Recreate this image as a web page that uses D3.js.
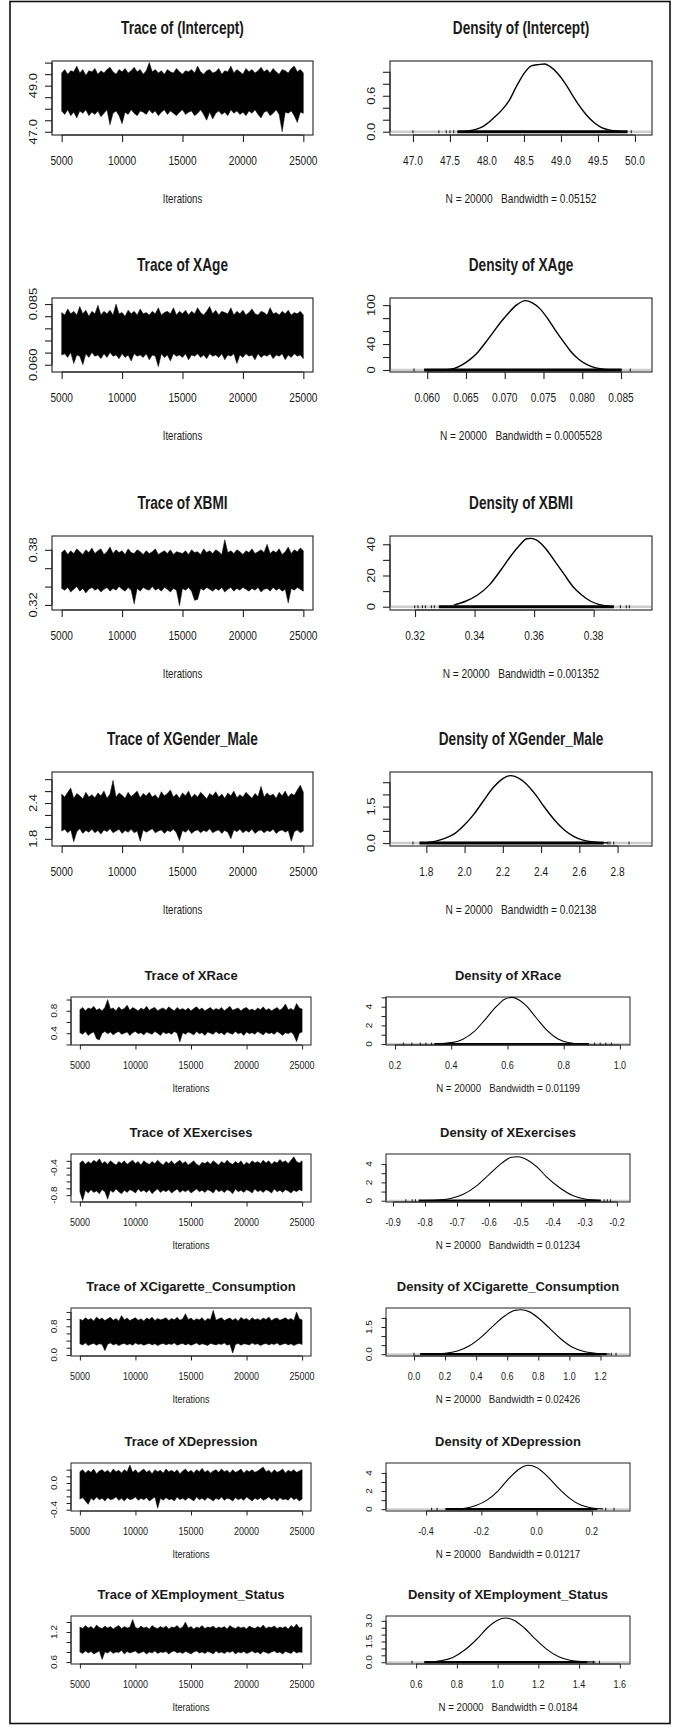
<!DOCTYPE html>
<html>
<head>
<meta charset="utf-8">
<script src="https://cdn.jsdelivr.net/npm/d3@7"></script>
<style>
  body { margin: 0; background: #fff; }
  svg { display: block; font-family: "Liberation Sans", Arial, sans-serif; }
</style>
</head>
<body>
<svg id="chart" width="674" height="1726"></svg>
<script>
// MCMC output: 20000 draws kept, iterations 5000..25000.
const sampleIterations = d3.range(5000, 25001, 250);
const iterLim = [4200, 25800];
const iterTicks = [5000, 10000, 15000, 20000, 25000];

// ---- (Intercept)
const interceptHi = [
  49.55, 49.7, 49.5, 49.65, 49.6, 49.85, 49.55, 49.7, 49.45, 49.65,
  49.6, 49.75, 49.5, 49.65, 49.55, 49.7, 49.8, 49.6, 49.5, 49.7,
  49.6, 49.75, 49.55, 49.65, 49.8, 49.6, 49.7, 49.5, 49.65, 50.0,
  49.6, 49.7, 49.55, 49.65, 49.5, 49.7, 49.6, 49.55, 49.75, 49.6,
  49.5, 49.65, 49.6, 49.7, 49.55, 49.85, 49.6, 49.5, 49.65, 49.7,
  49.55, 49.6, 49.75, 49.5, 49.65, 49.6, 49.85, 49.55, 49.7, 49.6,
  49.5, 49.75, 49.6, 49.7, 49.55, 49.65, 49.8, 49.6, 49.7, 49.55,
  49.75, 49.6, 49.5, 49.7, 49.65, 49.55, 49.75, 49.85, 49.6, 49.7,
  49.55];
const interceptLo = [
  47.9, 47.75, 47.95, 47.7, 47.85, 47.6, 47.9, 47.8, 47.95, 47.7,
  47.85, 47.75, 47.9, 47.65, 47.8, 47.95, 47.3, 47.8, 47.9, 47.7,
  47.35, 47.85, 47.75, 47.95, 47.8, 47.7, 47.9, 47.85, 47.75, 47.95,
  47.8, 47.9, 47.7, 47.85, 47.95, 47.75, 47.9, 47.8, 47.7, 47.85,
  47.95, 47.75, 47.85, 47.9, 47.7, 47.8, 47.95, 47.75, 47.5, 47.85,
  47.55, 47.8, 47.9, 47.75, 47.85, 47.7, 47.95, 47.8, 47.9, 47.75,
  47.85, 47.7, 47.9, 47.8, 47.95, 47.75, 47.6, 47.85, 47.9, 47.7,
  47.8, 47.95, 47.75, 47.0, 47.85, 47.8, 47.9, 47.7, 47.4, 47.85,
  47.8];
const interceptTraceLim = [46.86, 50.07];
const interceptTraceTicks = [47, 47.5, 48, 48.5, 49, 49.5, 50];
const interceptTraceLabels = ['47.0', '49.0'];
const interceptDensity = [[47.7, 0.01], [47.85, 0.04], [47.95, 0.09], [48.1, 0.24], [48.2, 0.36],
  [48.3, 0.52], [48.4, 0.76], [48.5, 0.97], [48.6, 1.1], [48.7, 1.12], [48.78, 1.13], [48.85, 1.09],
  [48.95, 0.98], [49.05, 0.82], [49.15, 0.62], [49.25, 0.43], [49.35, 0.27], [49.45, 0.15],
  [49.55, 0.07], [49.65, 0.03], [49.8, 0.005]];
const interceptDensXLim = [46.69, 50.23];
const interceptDensYLim = [-0.055, 1.18];
const interceptDensXLabels = ['47.0', '47.5', '48.0', '48.5', '49.0', '49.5', '50.0'];
const interceptDensYTicks = [0, 0.2, 0.4, 0.6, 0.8, 1.0];
const interceptDensYLabels = ['0.0', '0.6'];
const interceptRug = [47.6, 49.9];
const interceptRugMarks = [47.0, 47.35, 47.45, 47.5, 47.55, 49.95];

// ---- XAge
const ageHi = [
  0.0815, 0.0805, 0.083, 0.081, 0.082, 0.0805, 0.084, 0.081, 0.0825, 0.080,
  0.082, 0.081, 0.0845, 0.0805, 0.082, 0.081, 0.0825, 0.0805, 0.085, 0.081,
  0.0815, 0.080, 0.0825, 0.081, 0.082, 0.0805, 0.083, 0.081, 0.0815, 0.0805,
  0.082, 0.081, 0.0835, 0.0805, 0.0815, 0.082, 0.081, 0.0835, 0.0805, 0.082,
  0.081, 0.0825, 0.0805, 0.082, 0.081, 0.0835, 0.0815, 0.0805, 0.082, 0.084,
  0.081, 0.0825, 0.0805, 0.082, 0.0815, 0.081, 0.0835, 0.0805, 0.082, 0.081,
  0.0825, 0.0805, 0.0815, 0.083, 0.081, 0.0805, 0.082, 0.0815, 0.0805, 0.0835,
  0.081, 0.0815, 0.0805, 0.082, 0.081, 0.0825, 0.0805, 0.0815, 0.081, 0.082,
  0.0805];
const ageLo = [
  0.064, 0.0645, 0.063, 0.065, 0.0605, 0.064, 0.0635, 0.060, 0.0645, 0.063,
  0.065, 0.0635, 0.064, 0.0625, 0.0645, 0.063, 0.065, 0.0635, 0.064, 0.0625,
  0.0645, 0.063, 0.064, 0.0615, 0.0645, 0.0635, 0.064, 0.063, 0.0645, 0.062,
  0.064, 0.0635, 0.0592, 0.0645, 0.063, 0.064, 0.0615, 0.0645, 0.0635, 0.064,
  0.063, 0.0645, 0.062, 0.064, 0.0635, 0.0645, 0.063, 0.064, 0.0625, 0.0645,
  0.0635, 0.064, 0.063, 0.0645, 0.062, 0.064, 0.0635, 0.0645, 0.0605, 0.064,
  0.063, 0.0645, 0.0635, 0.064, 0.062, 0.0645, 0.063, 0.064, 0.0635, 0.0645,
  0.0625, 0.064, 0.0635, 0.0645, 0.062, 0.064, 0.063, 0.0645, 0.0635, 0.064,
  0.0625];
const ageTraceLim = [0.057, 0.0875];
const ageTraceTicks = [0.060, 0.065, 0.070, 0.075, 0.080, 0.085];
const ageTraceLabels = ['0.060', '0.085'];
const ageDensity = [[0.0625, 0.5], [0.0635, 2.5], [0.0645, 8], [0.0655, 16], [0.0665, 27],
  [0.0675, 42], [0.0685, 58], [0.0695, 74], [0.0705, 88], [0.0715, 100], [0.0727, 107],
  [0.0735, 104], [0.0745, 95], [0.0755, 80], [0.0765, 62], [0.0775, 45], [0.0785, 29],
  [0.0795, 17], [0.0805, 9], [0.0815, 4], [0.0825, 1.5], [0.0835, 0.3]];
const ageDensXLim = [0.0552, 0.089];
const ageDensYLim = [-3.1, 111];
const ageDensXLabels = ['0.060', '0.065', '0.070', '0.075', '0.080', '0.085'];
const ageDensYTicks = [0, 20, 40, 60, 80, 100];
const ageDensYLabels = ['0', '40', '100'];
const ageRug = [0.0596, 0.0851];
const ageRugMarks = [0.0583, 0.0862];

// ---- XBMI
const bmiHi = [
  0.377, 0.380, 0.375, 0.379, 0.376, 0.381, 0.378, 0.375, 0.380, 0.377,
  0.382, 0.376, 0.379, 0.381, 0.375, 0.378, 0.383, 0.376, 0.380, 0.377,
  0.379, 0.375, 0.381, 0.377, 0.376, 0.380, 0.378, 0.375, 0.379, 0.376,
  0.378, 0.381, 0.375, 0.377, 0.379, 0.376, 0.380, 0.375, 0.378, 0.377,
  0.376, 0.379, 0.375, 0.380, 0.377, 0.378, 0.375, 0.381, 0.377, 0.379,
  0.376, 0.380, 0.378, 0.375, 0.391, 0.377, 0.379, 0.376, 0.380, 0.378,
  0.375, 0.379, 0.377, 0.381, 0.376, 0.378, 0.380, 0.377, 0.386, 0.376,
  0.379, 0.377, 0.381, 0.375, 0.378, 0.383, 0.376, 0.380, 0.378, 0.382,
  0.379];
const bmiLo = [
  0.338, 0.336, 0.339, 0.334, 0.337, 0.340, 0.335, 0.338, 0.333, 0.337,
  0.339, 0.336, 0.338, 0.334, 0.337, 0.339, 0.335, 0.338, 0.336, 0.340,
  0.337, 0.335, 0.339, 0.336, 0.321, 0.338, 0.335, 0.339, 0.337, 0.336,
  0.340, 0.336, 0.338, 0.335, 0.339, 0.337, 0.334, 0.338, 0.336, 0.319,
  0.338, 0.336, 0.339, 0.335, 0.325, 0.326, 0.338, 0.336, 0.339, 0.337,
  0.335, 0.338, 0.336, 0.339, 0.334, 0.337, 0.339, 0.335, 0.338, 0.336,
  0.339, 0.337, 0.335, 0.338, 0.336, 0.339, 0.334, 0.337, 0.338, 0.335,
  0.339, 0.336, 0.338, 0.335, 0.337, 0.322, 0.338, 0.336, 0.339, 0.337,
  0.335];
const bmiTraceLim = [0.3145, 0.395];
const bmiTraceTicks = [0.32, 0.34, 0.36, 0.38];
const bmiTraceLabels = ['0.32', '0.38'];
const bmiDensity = [[0.333, 1], [0.337, 3.5], [0.341, 7.5], [0.345, 14], [0.349, 24], [0.352, 32],
  [0.355, 39], [0.3575, 43.5], [0.359, 43.8], [0.361, 42.5], [0.364, 37], [0.367, 29], [0.370, 21],
  [0.373, 13], [0.376, 7.5], [0.379, 3.5], [0.382, 1.3], [0.385, 0.3]];
const bmiDensXLim = [0.3116, 0.3996];
const bmiDensYLim = [-2.1, 45.3];
const bmiDensXLabels = ['0.32', '0.34', '0.36', '0.38'];
const bmiDensYTicks = [0, 10, 20, 30, 40];
const bmiDensYLabels = ['0', '20', '40'];
const bmiRug = [0.328, 0.3868];
const bmiRugMarks = [0.3199, 0.321, 0.3225, 0.3235, 0.3255, 0.3265, 0.389, 0.391, 0.392];

// ---- XGender_Male
const genderHi = [
  2.55, 2.5, 2.58, 2.65, 2.48, 2.56, 2.52, 2.47, 2.58, 2.5,
  2.54, 2.49, 2.57, 2.52, 2.6, 2.48, 2.55, 2.78, 2.5, 2.57,
  2.53, 2.48, 2.58, 2.51, 2.55, 2.6, 2.49, 2.56, 2.52, 2.58,
  2.5, 2.54, 2.47, 2.59, 2.52, 2.56, 2.62, 2.5, 2.55, 2.48,
  2.57, 2.52, 2.6, 2.49, 2.55, 2.5, 2.58, 2.53, 2.47, 2.56,
  2.52, 2.59, 2.5, 2.55, 2.48, 2.57, 2.52, 2.6, 2.49, 2.54,
  2.5, 2.58, 2.53, 2.48, 2.56, 2.51, 2.68, 2.5, 2.57, 2.52,
  2.55, 2.48, 2.58, 2.52, 2.6, 2.5, 2.56, 2.53, 2.62, 2.7,
  2.58];
const genderLo = [
  1.93, 1.96, 1.9, 1.95, 1.75, 1.92, 1.97, 1.89, 1.94, 1.91,
  1.96, 1.9, 1.94, 1.88, 1.95, 1.92, 1.97, 1.9, 1.93, 1.96,
  1.89, 1.94, 1.91, 1.96, 1.9, 1.93, 1.76, 1.95, 1.91, 1.94,
  1.97, 1.9, 1.93, 1.95, 1.89, 1.94, 1.92, 1.96, 1.9, 1.77,
  1.94, 1.91, 1.96, 1.89, 1.93, 1.95, 1.9, 1.94, 1.92, 1.97,
  1.9, 1.93, 1.95, 1.89, 1.94, 1.91, 1.8, 1.95, 1.92, 1.96,
  1.9, 1.94, 1.91, 1.96, 1.89, 1.93, 1.95, 1.9, 1.94, 1.92,
  1.96, 1.89, 1.93, 1.95, 1.91, 1.94, 1.76, 1.92, 1.95, 1.9,
  1.93];
const genderTraceLim = [1.68, 2.92];
const genderTraceTicks = [1.8, 2.0, 2.2, 2.4, 2.6, 2.8];
const genderTraceLabels = ['1.8', '2.4'];
const genderDensity = [[1.8, 0.02], [1.85, 0.08], [1.9, 0.2], [1.95, 0.4], [2.0, 0.75], [2.05, 1.2],
  [2.1, 1.75], [2.15, 2.28], [2.2, 2.65], [2.24, 2.77], [2.28, 2.68], [2.32, 2.45], [2.37, 2.0],
  [2.42, 1.45], [2.47, 0.95], [2.52, 0.55], [2.57, 0.28], [2.62, 0.12], [2.68, 0.04], [2.75, 0.01]];
const genderDensXLim = [1.61, 2.98];
const genderDensYLim = [-0.12, 2.92];
const genderDensXLabels = ['1.8', '2.0', '2.2', '2.4', '2.6', '2.8'];
const genderDensYTicks = [0, 0.5, 1.0, 1.5, 2.0, 2.5];
const genderDensYLabels = ['0.0', '1.5'];
const genderRug = [1.764, 2.727];
const genderRugMarks = [1.73, 2.75, 2.76, 2.78, 2.86];

// ---- XRace
const raceHi = [
  0.82, 0.86, 0.8, 0.85, 0.83, 0.88, 0.81, 0.84, 0.8, 0.86,
  1.0, 0.83, 0.85, 0.8, 0.87, 0.82, 0.84, 0.9, 0.81, 0.86,
  0.83, 0.8, 0.85, 0.82, 0.88, 0.81, 0.84, 0.86, 0.8, 0.83,
  0.85, 0.81, 0.87, 0.83, 0.8, 0.86, 0.82, 0.84, 0.81, 0.85,
  0.8, 0.84, 0.87, 0.82, 0.85, 0.8, 0.83, 0.86, 0.81, 0.84,
  0.82, 0.86, 0.8, 0.84, 0.88, 0.81, 0.83, 0.85, 0.8, 0.84,
  0.86, 0.81, 0.83, 0.8, 0.85, 0.82, 0.87, 0.81, 0.84, 0.8,
  0.83, 0.86, 0.81, 0.85, 0.92, 0.82, 0.84, 0.81, 0.93, 0.85,
  0.83];
const raceLo = [
  0.41, 0.38, 0.43, 0.36, 0.4, 0.42, 0.3, 0.28, 0.4, 0.43,
  0.39, 0.42, 0.37, 0.41, 0.43, 0.38, 0.4, 0.42, 0.36, 0.41,
  0.43, 0.39, 0.41, 0.37, 0.42, 0.4, 0.38, 0.43, 0.4, 0.36,
  0.42, 0.39, 0.41, 0.38, 0.43, 0.4, 0.24, 0.41, 0.38, 0.42,
  0.4, 0.37, 0.43, 0.39, 0.41, 0.36, 0.42, 0.4, 0.38, 0.43,
  0.39, 0.41, 0.37, 0.42, 0.4, 0.38, 0.43, 0.39, 0.41, 0.36,
  0.42, 0.39, 0.41, 0.38, 0.43, 0.4, 0.37, 0.42, 0.39, 0.41,
  0.38, 0.43, 0.4, 0.36, 0.41, 0.39, 0.42, 0.37, 0.25, 0.4,
  0.42];
const raceTraceLim = [0.19, 1.045];
const raceTraceTicks = [0.2, 0.4, 0.6, 0.8, 1.0];
const raceTraceLabels = ['0.4', '0.8'];
const raceDensity = [[0.35, 0.03], [0.4, 0.15], [0.44, 0.5], [0.48, 1.3], [0.52, 2.6], [0.56, 4.0],
  [0.59, 4.8], [0.615, 5.0], [0.64, 4.75], [0.67, 4.0], [0.7, 2.9], [0.74, 1.5], [0.78, 0.55],
  [0.82, 0.15], [0.86, 0.03]];
const raceDensXLim = [0.168, 1.036];
const raceDensYLim = [-0.1, 5.04];
const raceDensXLabels = ['0.2', '0.4', '0.6', '0.8', '1.0'];
const raceDensYTicks = [0, 1, 2, 3, 4, 5];
const raceDensYLabels = ['0', '2', '4'];
const raceRug = [0.34, 0.89];
const raceRugMarks = [0.23, 0.26, 0.29, 0.31, 0.33, 0.91, 0.93, 0.95, 0.97];

// ---- XExercises
const exerciseHi = [
  -0.33, -0.3, -0.35, -0.31, -0.34, -0.29, -0.32, -0.27, -0.34, -0.31,
  -0.35, -0.3, -0.33, -0.36, -0.31, -0.34, -0.3, -0.35, -0.32, -0.29,
  -0.34, -0.31, -0.36, -0.3, -0.33, -0.35, -0.31, -0.34, -0.29, -0.33,
  -0.36, -0.31, -0.34, -0.3, -0.35, -0.32, -0.29, -0.34, -0.31, -0.36,
  -0.33, -0.3, -0.35, -0.37, -0.32, -0.34, -0.31, -0.35, -0.3, -0.33,
  -0.36, -0.31, -0.34, -0.29, -0.33, -0.35, -0.31, -0.34, -0.3, -0.36,
  -0.32, -0.35, -0.3, -0.33, -0.31, -0.34, -0.29, -0.33, -0.3, -0.35,
  -0.31, -0.33, -0.28, -0.32, -0.3, -0.34, -0.29, -0.24, -0.31, -0.33,
  -0.3];
const exerciseLo = [
  -0.75, -0.88, -0.73, -0.77, -0.72, -0.76, -0.74, -0.78, -0.72, -0.75,
  -0.86, -0.73, -0.76, -0.71, -0.75, -0.78, -0.73, -0.76, -0.72, -0.74,
  -0.77, -0.71, -0.75, -0.73, -0.76, -0.72, -0.78, -0.74, -0.71, -0.76,
  -0.73, -0.75, -0.72, -0.77, -0.74, -0.71, -0.76, -0.73, -0.75, -0.72,
  -0.77, -0.74, -0.71, -0.75, -0.73, -0.76, -0.72, -0.74, -0.77, -0.71,
  -0.75, -0.73, -0.76, -0.72, -0.74, -0.78, -0.71, -0.75, -0.73, -0.76,
  -0.72, -0.74, -0.77, -0.71, -0.75, -0.73, -0.76, -0.72, -0.74, -0.77,
  -0.71, -0.75, -0.73, -0.76, -0.72, -0.74, -0.77, -0.73, -0.75, -0.72,
  -0.74];
const exerciseTraceLim = [-0.9, -0.2];
const exerciseTraceTicks = [-0.8, -0.7, -0.6, -0.5, -0.4, -0.3];
const exerciseTraceLabels = ['-0.8', '-0.4'];
const exerciseDensity = [[-0.8, 0.01], [-0.76, 0.06], [-0.72, 0.25], [-0.68, 0.7], [-0.64, 1.6],
  [-0.6, 2.85], [-0.56, 4.1], [-0.53, 4.75], [-0.51, 4.8], [-0.48, 4.45], [-0.45, 3.7],
  [-0.42, 2.6], [-0.38, 1.45], [-0.34, 0.6], [-0.3, 0.18], [-0.26, 0.04]];
const exerciseDensXLim = [-0.922, -0.159];
const exerciseDensYLim = [-0.14, 5.1];
const exerciseDensXLabels = ['-0.9', '-0.8', '-0.7', '-0.6', '-0.5', '-0.4', '-0.3', '-0.2'];
const exerciseDensYTicks = [0, 1, 2, 3, 4];
const exerciseDensYLabels = ['0', '2', '4'];
const exerciseRug = [-0.82, -0.25];
const exerciseRugMarks = [-0.86, -0.84, -0.83, -0.24, -0.23, -0.22];

// ---- XCigarette_Consumption
const cigaretteHi = [
  1.0, 0.96, 1.04, 0.98, 1.02, 0.95, 1.06, 0.99, 1.03, 0.96,
  1.01, 1.05, 0.97, 1.02, 0.95, 1.1, 0.98, 1.03, 0.96, 1.0,
  1.04, 0.97, 1.01, 0.95, 1.03, 0.99, 1.05, 0.96, 1.02, 0.98,
  1.0, 1.04, 0.96, 1.02, 0.98, 1.05, 0.97, 1.01, 1.15, 0.99,
  1.03, 0.96, 1.01, 0.98, 1.04, 0.95, 1.02, 0.99, 1.25, 0.97,
  1.01, 1.04, 0.96, 1.0, 1.03, 0.97, 1.02, 0.95, 1.05, 0.99,
  1.02, 0.96, 1.04, 0.98, 1.01, 0.97, 1.03, 0.99, 1.06, 0.96,
  1.01, 1.03, 0.97, 1.0, 1.04, 0.98, 1.02, 0.96, 1.2, 1.01,
  0.98];
const cigaretteLo = [
  0.31, 0.28, 0.33, 0.26, 0.3, 0.32, 0.27, 0.31, 0.29, 0.12,
  0.3, 0.33, 0.28, 0.31, 0.26, 0.3, 0.32, 0.28, 0.31, 0.27,
  0.33, 0.29, 0.31, 0.27, 0.3, 0.32, 0.28, 0.31, 0.26, 0.3,
  0.32, 0.28, 0.31, 0.29, 0.33, 0.27, 0.3, 0.32, 0.28, 0.31,
  0.27, 0.3, 0.33, 0.28, 0.31, 0.29, 0.26, 0.32, 0.3, 0.28,
  0.31, 0.29, 0.33, 0.27, 0.3, 0.05, 0.29, 0.32, 0.27, 0.31,
  0.3, 0.28, 0.33, 0.29, 0.31, 0.26, 0.3, 0.32, 0.28, 0.31,
  0.29, 0.33, 0.27, 0.3, 0.32, 0.28, 0.31, 0.26, 0.3, 0.32,
  0.29];
const cigaretteTraceLim = [-0.03, 1.31];
const cigaretteTraceTicks = [0, 0.2, 0.4, 0.6, 0.8, 1.0, 1.2];
const cigaretteTraceLabels = ['0.0', '0.8'];
const cigaretteDensity = [[0.12, 0.01], [0.2, 0.05], [0.28, 0.18], [0.36, 0.48], [0.44, 1.0],
  [0.52, 1.65], [0.59, 2.15], [0.65, 2.42], [0.69, 2.45], [0.74, 2.35], [0.8, 2.0], [0.87, 1.45],
  [0.94, 0.88], [1.02, 0.38], [1.1, 0.13], [1.18, 0.04], [1.26, 0.01]];
const cigaretteDensXLim = [-0.18, 1.39];
const cigaretteDensYLim = [-0.1, 2.55];
const cigaretteDensXLabels = ['0.0', '0.2', '0.4', '0.6', '0.8', '1.0', '1.2'];
const cigaretteDensYTicks = [0, 0.5, 1.0, 1.5, 2.0];
const cigaretteDensYLabels = ['0.0', '1.5'];
const cigaretteRug = [0.04, 1.24];
const cigaretteRugMarks = [0.0, 1.27, 1.3];

// ---- XDepression
const depressionHi = [
  0.17, 0.2, 0.15, 0.19, 0.16, 0.21, 0.14, 0.18, 0.2, 0.16,
  0.19, 0.15, 0.21, 0.17, 0.19, 0.15, 0.2, 0.17, 0.27, 0.16,
  0.2, 0.15, 0.18, 0.21, 0.16, 0.19, 0.14, 0.2, 0.17, 0.19,
  0.15, 0.21, 0.17, 0.19, 0.16, 0.2, 0.14, 0.18, 0.21, 0.16,
  0.19, 0.15, 0.2, 0.17, 0.22, 0.16, 0.19, 0.15, 0.18, 0.2,
  0.16, 0.21, 0.17, 0.19, 0.15, 0.2, 0.16, 0.18, 0.21, 0.15,
  0.19, 0.17, 0.2, 0.16, 0.18, 0.21, 0.24, 0.17, 0.19, 0.15,
  0.2, 0.16, 0.18, 0.21, 0.15, 0.19, 0.17, 0.2, 0.16, 0.18,
  0.2];
const depressionLo = [
  -0.24, -0.22, -0.27, -0.32, -0.23, -0.26, -0.21, -0.25, -0.23, -0.27,
  -0.22, -0.25, -0.24, -0.21, -0.26, -0.23, -0.27, -0.22, -0.25, -0.24,
  -0.21, -0.26, -0.23, -0.25, -0.22, -0.27, -0.24, -0.21, -0.38, -0.23,
  -0.26, -0.22, -0.25, -0.24, -0.27, -0.21, -0.25, -0.23, -0.26, -0.22,
  -0.24, -0.27, -0.21, -0.25, -0.23, -0.26, -0.22, -0.24, -0.27, -0.23,
  -0.25, -0.21, -0.26, -0.23, -0.24, -0.27, -0.22, -0.25, -0.23, -0.26,
  -0.21, -0.24, -0.27, -0.23, -0.25, -0.22, -0.26, -0.24, -0.21, -0.25,
  -0.23, -0.27, -0.22, -0.25, -0.24, -0.26, -0.21, -0.25, -0.23, -0.27,
  -0.24];
const depressionTraceLim = [-0.42, 0.3];
const depressionTraceTicks = [-0.4, -0.3, -0.2, -0.1, 0.0, 0.1, 0.2];
const depressionTraceLabels = ['-0.4', '0.0'];
const depressionDensity = [[-0.3, 0.02], [-0.26, 0.1], [-0.22, 0.4], [-0.18, 1.0], [-0.14, 2.0],
  [-0.1, 3.4], [-0.06, 4.5], [-0.03, 4.85], [0.0, 4.6], [0.04, 3.6], [0.08, 2.3], [0.12, 1.2],
  [0.16, 0.45], [0.2, 0.13], [0.24, 0.03]];
const depressionDensXLim = [-0.545, 0.338];
const depressionDensYLim = [-0.2, 5.1];
const depressionDensXLabels = ['-0.4', '-0.2', '0.0', '0.2'];
const depressionDensYTicks = [0, 1, 2, 3, 4];
const depressionDensYLabels = ['0', '2', '4'];
const depressionRug = [-0.33, 0.22];
const depressionRugMarks = [-0.38, -0.36, 0.25, 0.28];

// ---- XEmployment_Status
const employmentHi = [
  1.3, 1.27, 1.33, 1.28, 1.31, 1.26, 1.34, 1.29, 1.27, 1.32,
  1.28, 1.31, 1.26, 1.3, 1.33, 1.27, 1.31, 1.28, 1.3, 1.45,
  1.29, 1.27, 1.32, 1.28, 1.3, 1.26, 1.33, 1.29, 1.27, 1.31,
  1.28, 1.32, 1.26, 1.3, 1.29, 1.33, 1.27, 1.3, 1.4, 1.28,
  1.31, 1.26, 1.3, 1.28, 1.33, 1.27, 1.3, 1.29, 1.32, 1.27,
  1.3, 1.28, 1.31, 1.26, 1.33, 1.29, 1.27, 1.31, 1.28, 1.3,
  1.26, 1.32, 1.29, 1.27, 1.31, 1.28, 1.34, 1.27, 1.3, 1.29,
  1.32, 1.27, 1.3, 1.28, 1.31, 1.26, 1.33, 1.29, 1.36, 1.28,
  1.3];
const employmentLo = [
  0.8, 0.77, 0.82, 0.78, 0.81, 0.76, 0.79, 0.82, 0.65, 0.8,
  0.78, 0.82, 0.77, 0.8, 0.79, 0.83, 0.76, 0.81, 0.78, 0.8,
  0.82, 0.77, 0.79, 0.81, 0.76, 0.8, 0.78, 0.82, 0.77, 0.8,
  0.79, 0.81, 0.76, 0.8, 0.82, 0.78, 0.8, 0.77, 0.81, 0.79,
  0.76, 0.8, 0.82, 0.78, 0.8, 0.77, 0.81, 0.79, 0.76, 0.82,
  0.78, 0.8, 0.77, 0.81, 0.79, 0.82, 0.76, 0.8, 0.78, 0.81,
  0.77, 0.79, 0.82, 0.78, 0.8, 0.76, 0.81, 0.79, 0.77, 0.8,
  0.82, 0.78, 0.8, 0.76, 0.81, 0.79, 0.77, 0.82, 0.78, 0.8,
  0.79];
const employmentTraceLim = [0.56, 1.52];
const employmentTraceTicks = [0.6, 0.8, 1.0, 1.2, 1.4];
const employmentTraceLabels = ['0.6', '1.2'];
const employmentDensity = [[0.66, 0.02], [0.72, 0.1], [0.78, 0.35], [0.84, 0.9], [0.9, 1.7],
  [0.95, 2.5], [1.0, 3.05], [1.04, 3.2], [1.08, 3.05], [1.13, 2.5], [1.18, 1.75], [1.24, 0.95],
  [1.3, 0.4], [1.36, 0.13], [1.42, 0.04], [1.48, 0.01]];
const employmentDensXLim = [0.452, 1.65];
const employmentDensYLim = [-0.13, 3.35];
const employmentDensXLabels = ['0.6', '0.8', '1.0', '1.2', '1.4', '1.6'];
const employmentDensYTicks = [0, 0.5, 1.0, 1.5, 2.0, 2.5, 3.0];
const employmentDensYLabels = ['0.0', '1.5', '3.0'];
const employmentRug = [0.64, 1.44];
const employmentRugMarks = [0.58, 1.47, 1.5];

const drawCount = 20000;
const bandwidths = ['0.05152', '0.0005528', '0.001352', '0.02138', '0.01199',
  '0.01234', '0.02426', '0.01217', '0.0184'];
const paramNames = ['(Intercept)', 'XAge', 'XBMI', 'XGender_Male', 'XRace',
  'XExercises', 'XCigarette_Consumption', 'XDepression', 'XEmployment_Status'];

const params = [
  [interceptHi, interceptLo, interceptTraceLim, interceptTraceTicks, interceptTraceLabels, interceptDensity,
    interceptDensXLim, interceptDensYLim, interceptDensXLabels, interceptDensYTicks, interceptDensYLabels, interceptRug, interceptRugMarks],
  [ageHi, ageLo, ageTraceLim, ageTraceTicks, ageTraceLabels, ageDensity,
    ageDensXLim, ageDensYLim, ageDensXLabels, ageDensYTicks, ageDensYLabels, ageRug, ageRugMarks],
  [bmiHi, bmiLo, bmiTraceLim, bmiTraceTicks, bmiTraceLabels, bmiDensity,
    bmiDensXLim, bmiDensYLim, bmiDensXLabels, bmiDensYTicks, bmiDensYLabels, bmiRug, bmiRugMarks],
  [genderHi, genderLo, genderTraceLim, genderTraceTicks, genderTraceLabels, genderDensity,
    genderDensXLim, genderDensYLim, genderDensXLabels, genderDensYTicks, genderDensYLabels, genderRug, genderRugMarks],
  [raceHi, raceLo, raceTraceLim, raceTraceTicks, raceTraceLabels, raceDensity,
    raceDensXLim, raceDensYLim, raceDensXLabels, raceDensYTicks, raceDensYLabels, raceRug, raceRugMarks],
  [exerciseHi, exerciseLo, exerciseTraceLim, exerciseTraceTicks, exerciseTraceLabels, exerciseDensity,
    exerciseDensXLim, exerciseDensYLim, exerciseDensXLabels, exerciseDensYTicks, exerciseDensYLabels, exerciseRug, exerciseRugMarks],
  [cigaretteHi, cigaretteLo, cigaretteTraceLim, cigaretteTraceTicks, cigaretteTraceLabels, cigaretteDensity,
    cigaretteDensXLim, cigaretteDensYLim, cigaretteDensXLabels, cigaretteDensYTicks, cigaretteDensYLabels, cigaretteRug, cigaretteRugMarks],
  [depressionHi, depressionLo, depressionTraceLim, depressionTraceTicks, depressionTraceLabels, depressionDensity,
    depressionDensXLim, depressionDensYLim, depressionDensXLabels, depressionDensYTicks, depressionDensYLabels, depressionRug, depressionRugMarks],
  [employmentHi, employmentLo, employmentTraceLim, employmentTraceTicks, employmentTraceLabels, employmentDensity,
    employmentDensXLim, employmentDensYLim, employmentDensXLabels, employmentDensYTicks, employmentDensYLabels, employmentRug, employmentRugMarks],
].map((a, i) => ({
  name: paramNames[i], bw: bandwidths[i],
  hi: a[0], lo: a[1], traceLim: a[2], traceTicks: a[3], traceLabels: a[4], dens: a[5],
  densXLim: a[6], densYLim: a[7], densXLabels: a[8], densYTicks: a[9], densYLabels: a[10],
  rug: a[11], rugMarks: a[12],
}));

// The picture is two screenshots stacked: the first four rows are bigger and squeezed sideways.
const BIG = {
  title: 28, boxTop: 61, boxBot: 135, tickLab: 160, sub: 198,
  traceX: [52, 313], densX: [390, 652],
  font: 13, sx: 0.78, titleFont: 17.5, titleSx: 0.78, subFont: 13, subSx: 0.78,
  iterFont: 13, iterSx: 0.74, tickLen: 7, yLabGap: 19, lineW: 1.1, curveW: 1.4, rugW: 3, zeroW: 2.5,
};
const SMALL = {
  title: 23, boxTop: 45, boxBot: 93, tickLab: 113, sub: 136,
  traceX: [71, 311], densX: [386, 630],
  font: 10, sx: 0.9, titleFont: 13, titleSx: 1, subFont: 10, subSx: 0.97,
  iterFont: 10, iterSx: 0.9, tickLen: 4.5, yLabGap: 17, lineW: 1, curveW: 1.1, rugW: 2.2, zeroW: 2,
};
const BIG_ROWS = [0, 237, 475, 711];
const SMALL_ROWS = [952, 1109, 1263, 1418, 1571];

const svg = d3.select('#chart');

svg.append('rect')
  .attr('x', 10).attr('y', 1.5).attr('width', 660).attr('height', 1722)
  .attr('fill', 'none').attr('stroke', '#111').attr('stroke-width', 1.6);

function addText(g, str, x, y, size, sx, opts = {}) {
  const t = g.append('text')
    .attr('transform', `translate(${x},${y}) scale(${sx},1)${opts.rotate ? ' rotate(-90)' : ''}`)
    .attr('text-anchor', 'middle')
    .attr('dy', '0.35em')
    .attr('font-size', size)
    .attr('fill', '#1a1a1a')
    .style('white-space', 'pre')
    .text(str);
  if (opts.bold) t.attr('font-weight', 'bold');
  return t;
}

// R style axis: the axis line runs only from the first to the last tick
function drawAxis(g, scale, ticks, orient, pos, st) {
  const axis = (orient === 'left' ? d3.axisLeft(scale) : d3.axisBottom(scale))
    .tickValues(ticks).tickSize(st.tickLen).tickSizeOuter(0).tickFormat('');
  const a = g.append('g')
    .attr('transform', orient === 'left' ? `translate(${pos},0)` : `translate(0,${pos})`)
    .call(axis);
  const p0 = scale(ticks[0]);
  const p1 = scale(ticks[ticks.length - 1]);
  a.select('.domain').attr('d', orient === 'left' ? `M0,${p0}V${p1}` : `M${p0},0H${p1}`);
  a.selectAll('line, path').attr('stroke', '#222').attr('stroke-width', st.lineW);
}

function drawBox(g, x0, x1, y0, y1, st) {
  g.append('rect')
    .attr('x', x0).attr('y', y0).attr('width', x1 - x0).attr('height', y1 - y0)
    .attr('fill', 'none').attr('stroke', '#222').attr('stroke-width', st.lineW);
}

function drawTrace(g, p, st, top) {
  const yTop = top + st.boxTop;
  const yBot = top + st.boxBot;
  const x = d3.scaleLinear().domain(iterLim).range(st.traceX);
  const y = d3.scaleLinear().domain(p.traceLim).range([yBot, yTop]);
  const cx = (st.traceX[0] + st.traceX[1]) / 2;

  addText(g, `Trace of ${p.name}`, cx, top + st.title, st.titleFont, st.titleSx, { bold: true });

  const band = d3.area()
    .x((d, i) => x(sampleIterations[i]))
    .y0((d, i) => y(p.lo[i]))
    .y1(d => y(d));
  g.append('path').datum(p.hi)
    .attr('d', band)
    .attr('fill', '#000')
    .attr('stroke', '#111')
    .attr('stroke-width', 0.5);

  drawBox(g, st.traceX[0], st.traceX[1], yTop, yBot, st);
  drawAxis(g, x, iterTicks, 'bottom', yBot, st);
  drawAxis(g, y, p.traceTicks, 'left', st.traceX[0], st);

  iterTicks.forEach(t => addText(g, String(t), x(t), top + st.tickLab, st.font, st.sx));
  p.traceLabels.forEach(s => addText(g, s, st.traceX[0] - st.yLabGap, y(+s), st.font, st.sx, { rotate: true }));
  addText(g, 'Iterations', cx, top + st.sub, st.iterFont, st.iterSx);
}

function drawDensity(g, p, st, top) {
  const yTop = top + st.boxTop;
  const yBot = top + st.boxBot;
  const x = d3.scaleLinear().domain(p.densXLim).range(st.densX);
  const y = d3.scaleLinear().domain(p.densYLim).range([yBot, yTop]);
  const cx = (st.densX[0] + st.densX[1]) / 2;

  addText(g, `Density of ${p.name}`, cx, top + st.title, st.titleFont, st.titleSx, { bold: true });

  // zero line and rug of the draws
  g.append('line')
    .attr('x1', st.densX[0] + 1).attr('x2', st.densX[1] - 1)
    .attr('y1', y(0)).attr('y2', y(0))
    .attr('stroke', '#cdcdcd').attr('stroke-width', st.zeroW);
  g.append('line')
    .attr('x1', x(p.rug[0])).attr('x2', x(p.rug[1]))
    .attr('y1', y(0)).attr('y2', y(0))
    .attr('stroke', '#000').attr('stroke-width', st.rugW);
  g.selectAll('.rug-mark').data(p.rugMarks).join('line')
    .attr('class', 'rug-mark')
    .attr('x1', d => x(d)).attr('x2', d => x(d))
    .attr('y1', y(0) - 1.5).attr('y2', y(0) + 1.5)
    .attr('stroke', '#222').attr('stroke-width', 1.1);

  const line = d3.line()
    .x(d => x(d[0]))
    .y(d => y(d[1]))
    .curve(d3.curveMonotoneX);
  g.append('path').datum(p.dens)
    .attr('d', line)
    .attr('fill', 'none')
    .attr('stroke', '#000')
    .attr('stroke-width', st.curveW);

  drawBox(g, st.densX[0], st.densX[1], yTop, yBot, st);
  drawAxis(g, x, p.densXLabels.map(Number), 'bottom', yBot, st);
  drawAxis(g, y, p.densYTicks, 'left', st.densX[0], st);

  p.densXLabels.forEach(s => addText(g, s, x(+s), top + st.tickLab, st.font, st.sx));
  p.densYLabels.forEach(s => addText(g, s, st.densX[0] - st.yLabGap, y(+s), st.font, st.sx, { rotate: true }));
  addText(g, `N = ${drawCount}   Bandwidth = ${p.bw}`, cx, top + st.sub, st.subFont, st.subSx);
}

params.forEach((p, i) => {
  const big = i < BIG_ROWS.length;
  const st = big ? BIG : SMALL;
  const top = big ? BIG_ROWS[i] : SMALL_ROWS[i - BIG_ROWS.length];
  drawTrace(svg.append('g').attr('class', 'trace'), p, st, top);
  drawDensity(svg.append('g').attr('class', 'density'), p, st, top);
});
</script>
</body>
</html>
